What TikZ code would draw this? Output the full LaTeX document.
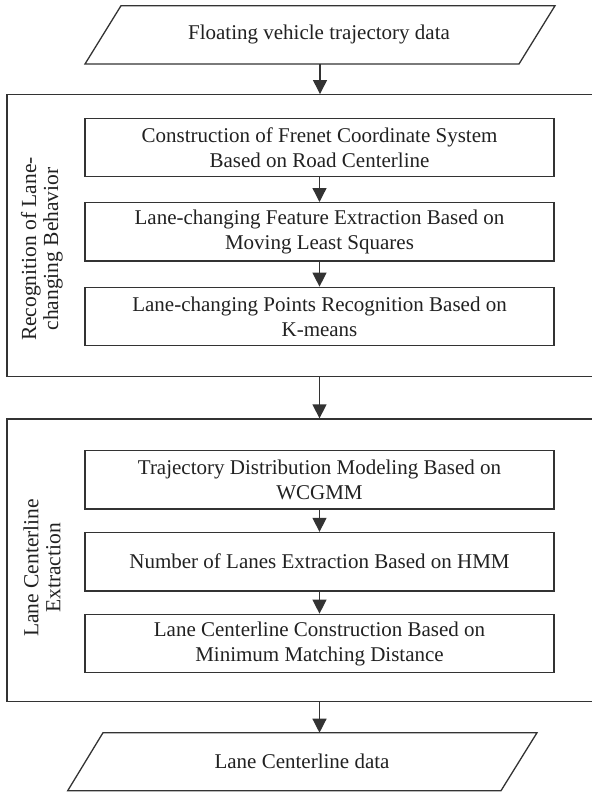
\documentclass[tikz,border=0pt]{standalone}
\usepackage{fontspec}
\setmainfont{Liberation Serif}
\usetikzlibrary{arrows.meta}
\definecolor{ln}{gray}{0.2}
\definecolor{txt}{gray}{0.13}

\begin{document}
\begin{tikzpicture}[x=1pt,y=-1pt,
  every node/.style={font=\fontsize{21}{25}\selectfont, text=txt},
  line/.style={draw=ln, line width=1.3pt},
  stepbox/.style={line, rectangle, minimum width=469pt, minimum height=58.4pt, align=center, inner sep=0pt},
  groupbox/.style={line, rectangle, minimum width=586pt, inner sep=0pt},
  iotext/.style={inner sep=0pt},
  grouplabel/.style={rotate=90, align=center, font=\fontsize{21.5}{22}\selectfont},
  arr/.style={line, -{Triangle[width=14pt,length=14pt]}}
]
\useasboundingbox (0,0) rectangle (592,793);

% phase frames
\node[groupbox, minimum height=282pt] (g1) at (300,235.7) {};
\node[groupbox, minimum height=282.7pt] (g2) at (300,560.35) {};
\node[grouplabel] (l1) at (42,249) {Recognition of Lane-\\changing Behavior};
\node[grouplabel] (l2) at (42,568) {Lane Centerline\\Extraction};

% input data (parallelogram)
\coordinate (srcTL) at (121,5.7);
\coordinate (srcTR) at (555,5.7);
\coordinate (srcBR) at (519,64);
\coordinate (srcBL) at (85,64);
\draw[line, line join=miter] (srcTL) -- (srcTR) -- (srcBR) -- (srcBL) -- cycle;
\node[iotext] (src) at (319,34.85) {Floating vehicle trajectory data};
\coordinate (srcout) at (320,64);

% output data (parallelogram)
\coordinate (dstTL) at (103,732.7);
\coordinate (dstTR) at (537,732.7);
\coordinate (dstBR) at (501,790.7);
\coordinate (dstBL) at (67.7,790.7);
\draw[line, line join=miter] (dstTL) -- (dstTR) -- (dstBR) -- (dstBL) -- cycle;
\node[iotext] (dst) at (302,761.7) {Lane Centerline data};
\coordinate (dstin) at (320,732.7);

% processing steps
\node[stepbox] (b1) at (319.5,147.5) {Construction of Frenet Coordinate System\\Based on Road Centerline};
\node[stepbox] (b2) at (319.5,231.85) {Lane-changing Feature Extraction Based on\\Moving Least Squares};
\node[stepbox] (b3) at (319.5,316.5) {Lane-changing Points Recognition Based on\\K-means};
\node[stepbox] (b4) at (319.5,479.85) {Trajectory Distribution Modeling Based on\\WCGMM};
\node[stepbox] (b5) at (319.5,561.7) {Number of Lanes Extraction Based on HMM};
\node[stepbox] (b6) at (319.5,643.5) {Lane Centerline Construction Based on\\Minimum Matching Distance};

% flow
\draw[arr] (srcout) -- (g1.north -| srcout);
\draw[arr] (b1) -- (b2);
\draw[arr] (b2) -- (b3);
\draw[arr] (g1.south -| b3.south) -- (g2.north -| b3.south);
\draw[arr] (b4) -- (b5);
\draw[arr] (b5) -- (b6);
\draw[arr] (g2.south -| b6.south) -- (dstin -| b6.south);
\end{tikzpicture}
\end{document}
